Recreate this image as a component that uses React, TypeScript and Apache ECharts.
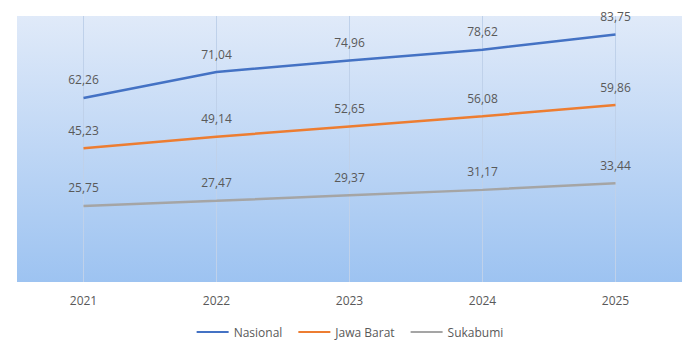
import React, { useEffect, useRef } from "react";
import * as echarts from "echarts";

const categories = ["2021", "2022", "2023", "2024", "2025"];
const nasional = [62.26, 71.04, 74.96, 78.62, 83.75];
const jawaBarat = [45.23, 49.14, 52.65, 56.08, 59.86];
const sukabumi = [25.75, 27.47, 29.37, 31.17, 33.44];

const fmt = (p: any) => Number(p.value).toFixed(2).replace(".", ",");

export default function App() {
  const ref = useRef<HTMLDivElement>(null);
  useEffect(() => {
    document.body.style.margin = "0";
    if (!ref.current) return;
    const chart = echarts.init(ref.current, null, { renderer: "svg" });
    const font = "'Open Sans', 'Noto Sans', sans-serif";
    const labelCfg = {
      show: true,
      position: "top" as const,
      distance: 12,
      color: "#595959",
      fontSize: 12,
      fontFamily: font,
      formatter: fmt,
    };
    const mk = (name: string, data: number[], color: string, extra: any = {}) => ({
      name,
      type: "line",
      data,
      symbol: "circle",
      symbolSize: 0,
      showSymbol: true,
      lineStyle: { color, width: 2.5 },
      itemStyle: { color },
      label: labelCfg,
      z: 3,
      ...extra,
    });
    chart.setOption({
      animation: false,
      backgroundColor: "#ffffff",
      textStyle: { fontFamily: font },
      grid: {
        left: 17,
        right: 18,
        top: 16,
        bottom: 73,
        show: true,
        borderWidth: 0,
        backgroundColor: new echarts.graphic.LinearGradient(0, 0, 0, 1, [
          { offset: 0, color: "#e0eaf9" },
          { offset: 1, color: "#9dc3f1" },
        ]),
      },
      legend: {
        top: 321,
        left: "center",
        icon: "rect",
        itemWidth: 32,
        itemHeight: 2,
        itemGap: 16,
        textStyle: { color: "#595959", fontSize: 12, fontFamily: font },
        data: ["Nasional", "Jawa Barat", "Sukabumi"],
      },
      xAxis: {
        type: "category",
        data: categories,
        boundaryGap: true,
        axisLine: { show: false },
        axisTick: { show: false },
        splitLine: { show: false },
        axisLabel: { color: "#595959", fontSize: 12, margin: 12, fontFamily: font },
      },
      yAxis: {
        type: "value",
        min: 0,
        max: 90,
        show: false,
        splitLine: { show: false },
      },
      series: [
        mk("Nasional", nasional, "#4472c4", {
          markLine: {
            silent: true,
            symbol: "none",
            label: { show: false },
            lineStyle: { color: "#bfd1ea", width: 1, type: "solid" },
            data: categories.map((c) => ({ xAxis: c })),
            z: 1,
          },
        }),
        mk("Jawa Barat", jawaBarat, "#ed7d31"),
        mk("Sukabumi", sukabumi, "#a5a5a5"),
      ],
    });
    return () => chart.dispose();
  }, []);
  return <div ref={ref} style={{ width: 700, height: 355 }} />;
}
